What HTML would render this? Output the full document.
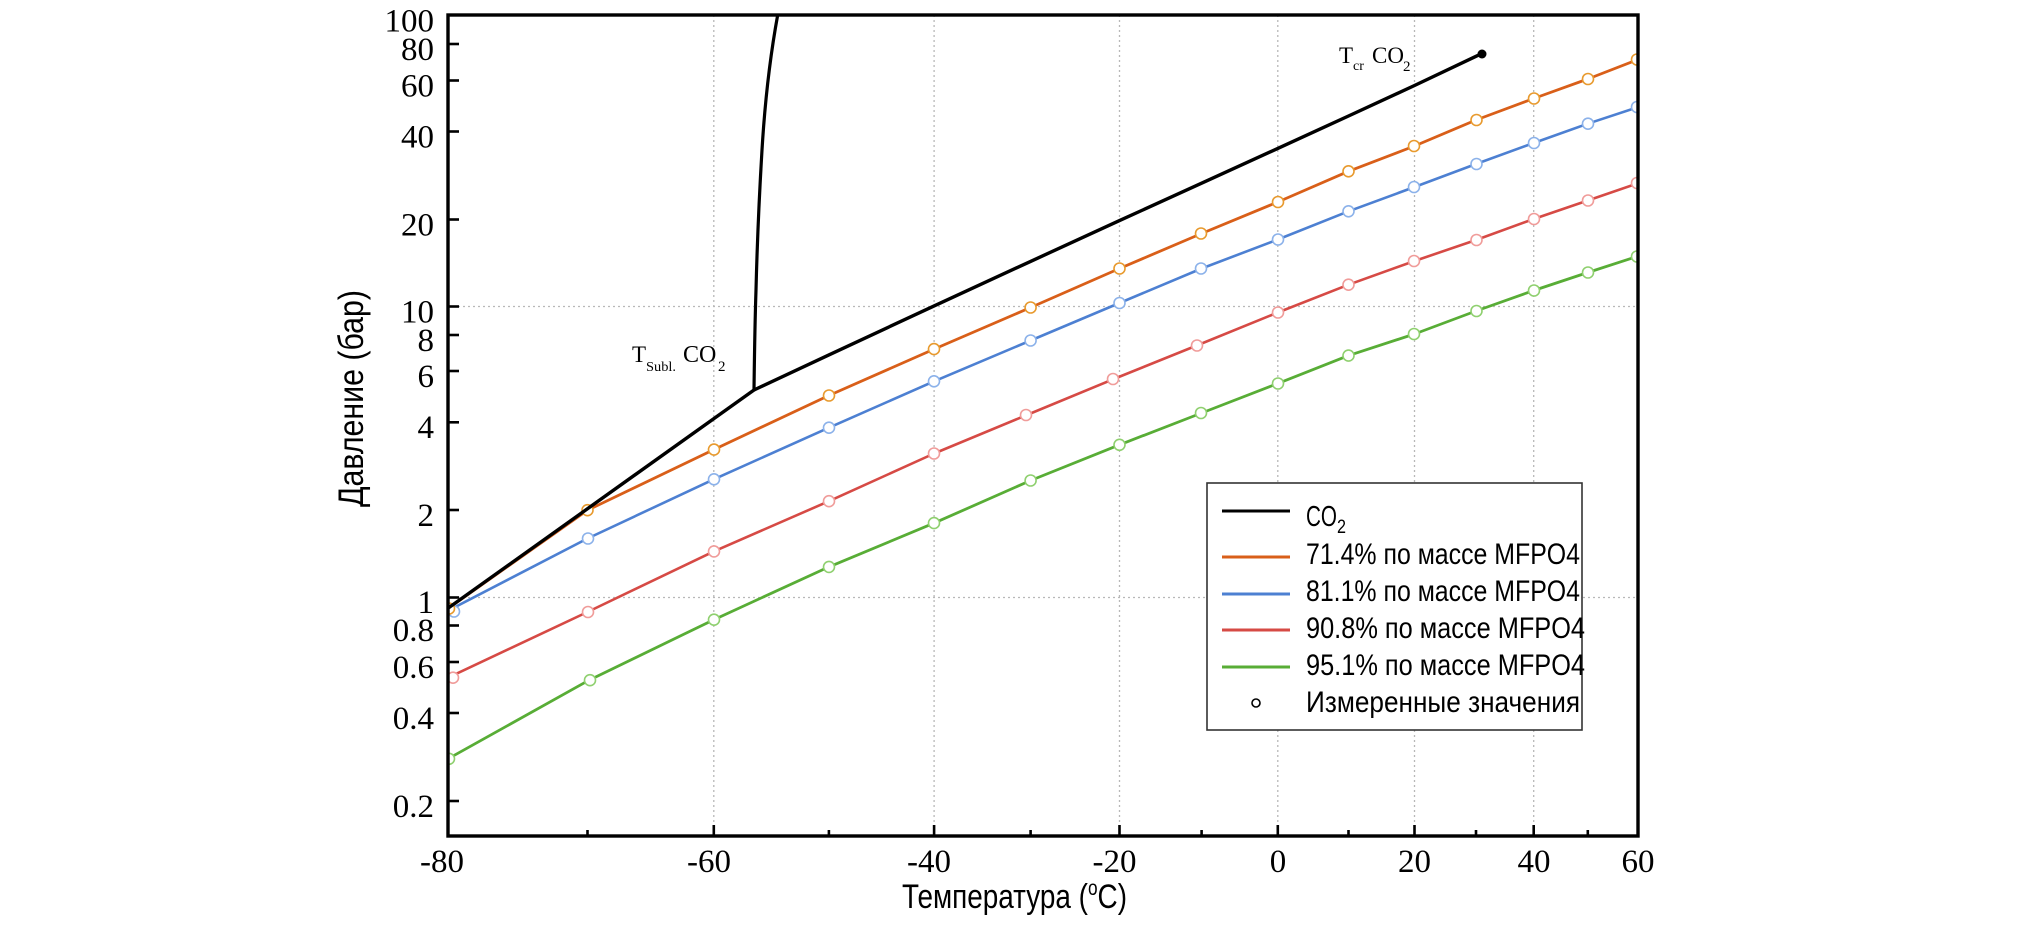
<!DOCTYPE html>
<html>
<head>
<meta charset="utf-8">
<style>
html,body{margin:0;padding:0;background:#ffffff;}
svg{display:block;}
</style>
</head>
<body>
<svg width="2020" height="928" viewBox="0 0 2020 928" xmlns="http://www.w3.org/2000/svg">
<defs>
<clipPath id="plot"><rect x="448" y="15" width="1190" height="821"/></clipPath>
</defs>
<rect x="0" y="0" width="2020" height="928" fill="#ffffff"/>

<!-- grid -->
<g stroke="#b8b8b8" stroke-width="1.3" stroke-dasharray="2,3" fill="none">
<line x1="713.8" y1="15" x2="713.8" y2="836"/>
<line x1="934.1" y1="15" x2="934.1" y2="836"/>
<line x1="1119.5" y1="15" x2="1119.5" y2="836"/>
<line x1="1277.8" y1="15" x2="1277.8" y2="836"/>
<line x1="1414.5" y1="15" x2="1414.5" y2="836"/>
<line x1="1533.7" y1="15" x2="1533.7" y2="836"/>
<line x1="448" y1="597.5" x2="1638" y2="597.5"/>
<line x1="448" y1="306.5" x2="1638" y2="306.5"/>
</g>

<g clip-path="url(#plot)" fill="none" stroke-linejoin="round" stroke-linecap="round">
<!-- green 95.1% -->
<polyline stroke="#58ad36" stroke-width="2.8" points="448,758.8 589,680.2 713.8,619.7 828.9,566.9 934.1,523.1 1030.6,480.5 1119.5,444.8 1201.6,413 1277.8,383.5 1348.5,355.6 1414.5,334 1476,311 1533.7,290.5 1587.8,272.5 1638.6,256"/>
<!-- red 90.8% -->
<polyline stroke="#d64a45" stroke-width="2.6" points="448,677.7 587.5,612 713.8,551.4 828.9,501.2 934.1,453.5 1028,414.5 1115,378.5 1198,345 1277.8,312.5 1348.5,284.7 1414.5,261 1476,240 1533.7,219 1587.8,200.5 1638.6,183"/>
<!-- blue 81.1% -->
<polyline stroke="#4d80d2" stroke-width="2.6" points="448,610.7 587.5,538.5 713.8,479.3 828.9,427.7 934.1,381.3 1030.6,340.5 1119.5,303 1201.6,268.5 1277.8,239.5 1348.5,211.3 1414.5,187 1476,164 1533.7,143 1587.8,123.7 1638.6,106.9"/>
<!-- orange 71.4% -->
<polyline stroke="#d95f19" stroke-width="2.8" points="448,608.6 587.5,510.2 713.8,449.6 828.9,395.5 934.1,349.1 1030.6,307.5 1119.5,268.5 1201.6,233.5 1277.8,202 1348.5,171.3 1414.5,146 1476,120 1533.7,98.5 1587.8,79 1638.6,59.3"/>

<!-- markers -->
<g fill="#ffffff" stroke-width="1.6">
<g stroke="#8fd06f">
<circle cx="449" cy="758.8" r="5.5"/><circle cx="590" cy="680.2" r="5.5"/><circle cx="714" cy="619.7" r="5.5"/><circle cx="829" cy="566.9" r="5.5"/><circle cx="934" cy="523.1" r="5.5"/><circle cx="1030.6" cy="480.5" r="5.5"/><circle cx="1119.5" cy="444.8" r="5.5"/><circle cx="1201" cy="413" r="5.5"/><circle cx="1278" cy="383.5" r="5.5"/><circle cx="1348.5" cy="355.6" r="5.5"/><circle cx="1414" cy="334" r="5.5"/><circle cx="1476.5" cy="311" r="5.5"/><circle cx="1534" cy="290.5" r="5.5"/><circle cx="1588" cy="272.5" r="5.5"/><circle cx="1637" cy="256.5" r="5.5"/>
</g>
<g stroke="#f09c9a">
<circle cx="453" cy="677.7" r="5.5"/><circle cx="588" cy="612" r="5.5"/><circle cx="714" cy="551.4" r="5.5"/><circle cx="829" cy="501.2" r="5.5"/><circle cx="934" cy="453.5" r="5.5"/><circle cx="1026" cy="415" r="5.5"/><circle cx="1113" cy="379" r="5.5"/><circle cx="1197" cy="345.5" r="5.5"/><circle cx="1278" cy="312.5" r="5.5"/><circle cx="1348.5" cy="284.7" r="5.5"/><circle cx="1414" cy="261" r="5.5"/><circle cx="1476.5" cy="240" r="5.5"/><circle cx="1534" cy="219" r="5.5"/><circle cx="1588" cy="200.5" r="5.5"/><circle cx="1637" cy="183" r="5.5"/>
</g>
<g stroke="#8cb2ea">
<circle cx="454" cy="611.5" r="5.5"/><circle cx="588" cy="538.5" r="5.5"/><circle cx="714" cy="479.3" r="5.5"/><circle cx="829" cy="427.7" r="5.5"/><circle cx="934" cy="381.3" r="5.5"/><circle cx="1030.6" cy="340.5" r="5.5"/><circle cx="1119.5" cy="303" r="5.5"/><circle cx="1201" cy="268.5" r="5.5"/><circle cx="1278" cy="239.5" r="5.5"/><circle cx="1348.5" cy="211.3" r="5.5"/><circle cx="1414" cy="187" r="5.5"/><circle cx="1476.5" cy="164" r="5.5"/><circle cx="1534" cy="143" r="5.5"/><circle cx="1588" cy="123.7" r="5.5"/><circle cx="1637" cy="107" r="5.5"/>
</g>
<g stroke="#e89a2e">
<circle cx="449" cy="608.6" r="5.5"/><circle cx="587.5" cy="510.2" r="5.5"/><circle cx="714" cy="449.6" r="5.5"/><circle cx="829" cy="395.5" r="5.5"/><circle cx="934" cy="349.1" r="5.5"/><circle cx="1030.6" cy="307.5" r="5.5"/><circle cx="1119.5" cy="268.5" r="5.5"/><circle cx="1201" cy="233.5" r="5.5"/><circle cx="1278" cy="202" r="5.5"/><circle cx="1348.5" cy="171.3" r="5.5"/><circle cx="1414" cy="146" r="5.5"/><circle cx="1476.5" cy="120" r="5.5"/><circle cx="1534" cy="98.5" r="5.5"/><circle cx="1588" cy="79" r="5.5"/><circle cx="1637" cy="59.5" r="5.5"/>
</g>
</g>

<!-- CO2 -->
<polyline stroke="#000000" stroke-width="3.4" points="449,607.5 754,390 828.9,354.9 934.1,305.9 1030.6,261.4 1119.5,220.6 1201.6,183.2 1277.8,148.4 1348.5,116 1414.5,85.5 1476,56.3 1482,53.5"/>
<path stroke="#000000" stroke-width="3.2" d="M754,390 C754.5,350 755,320 756,290 C757,250 759,200 762,150 C765,100 770,55 779,8"/>
</g>
<circle cx="1482" cy="54" r="4.5" fill="#000000"/>

<!-- axes frame -->
<rect x="448" y="15" width="1190" height="821" fill="none" stroke="#000000" stroke-width="3.4"/>

<!-- y ticks -->
<g stroke="#000000" stroke-width="2.6">
<line x1="448" y1="801" x2="459" y2="801"/>
<line x1="448" y1="713" x2="459" y2="713"/>
<line x1="448" y1="662" x2="459" y2="662"/>
<line x1="448" y1="625.5" x2="459" y2="625.5"/>
<line x1="448" y1="597.5" x2="459" y2="597.5"/>
<line x1="448" y1="510" x2="459" y2="510"/>
<line x1="448" y1="422.3" x2="459" y2="422.3"/>
<line x1="448" y1="371" x2="459" y2="371"/>
<line x1="448" y1="335" x2="459" y2="335"/>
<line x1="448" y1="306.5" x2="459" y2="306.5"/>
<line x1="448" y1="219.5" x2="459" y2="219.5"/>
<line x1="448" y1="131.5" x2="459" y2="131.5"/>
<line x1="448" y1="80.5" x2="459" y2="80.5"/>
<line x1="448" y1="44" x2="459" y2="44"/>
</g>
<!-- x ticks -->
<g stroke="#000000" stroke-width="2.6">
<line x1="587.5" y1="836" x2="587.5" y2="830"/>
<line x1="713.8" y1="836" x2="713.8" y2="825"/>
<line x1="828.9" y1="836" x2="828.9" y2="830"/>
<line x1="934.1" y1="836" x2="934.1" y2="825"/>
<line x1="1030.6" y1="836" x2="1030.6" y2="830"/>
<line x1="1119.5" y1="836" x2="1119.5" y2="825"/>
<line x1="1201.6" y1="836" x2="1201.6" y2="830"/>
<line x1="1277.8" y1="836" x2="1277.8" y2="825"/>
<line x1="1348.5" y1="836" x2="1348.5" y2="830"/>
<line x1="1414.5" y1="836" x2="1414.5" y2="825"/>
<line x1="1476" y1="836" x2="1476" y2="830"/>
<line x1="1533.7" y1="836" x2="1533.7" y2="825"/>
<line x1="1587.8" y1="836" x2="1587.8" y2="830"/>
</g>

<!-- y tick labels -->
<g font-family="'Liberation Serif', serif" font-size="33" fill="#000000" text-anchor="end">
<text x="434" y="817">0.2</text>
<text x="434" y="729">0.4</text>
<text x="434" y="678">0.6</text>
<text x="434" y="641">0.8</text>
<text x="434" y="613">1</text>
<text x="434" y="526">2</text>
<text x="434" y="438">4</text>
<text x="434" y="387">6</text>
<text x="434" y="351">8</text>
<text x="434" y="322.5">10</text>
<text x="434" y="235.5">20</text>
<text x="434" y="147.5">40</text>
<text x="434" y="96.5">60</text>
<text x="434" y="60">80</text>
<text x="434" y="31.5">100</text>
</g>

<!-- x tick labels -->
<g font-family="'Liberation Serif', serif" font-size="33" fill="#000000" text-anchor="middle">
<text x="442" y="872">-80</text>
<text x="709" y="872">-60</text>
<text x="929" y="872">-40</text>
<text x="1114.5" y="872">-20</text>
<text x="1278" y="872">0</text>
<text x="1414.5" y="872">20</text>
<text x="1534" y="872">40</text>
<text x="1638" y="872">60</text>
</g>

<!-- axis titles -->
<text x="902" y="908" font-family="'Liberation Sans', sans-serif" font-size="34" fill="#000000" textLength="225" lengthAdjust="spacingAndGlyphs">Температура (<tspan font-size="21" dy="-13">o</tspan><tspan font-size="34" dy="13">C)</tspan></text>
<text transform="translate(363,398.5) rotate(-90)" text-anchor="middle" font-family="'Liberation Sans', sans-serif" font-size="35" fill="#000000" textLength="217" lengthAdjust="spacingAndGlyphs">Давление (бар)</text>

<!-- annotations -->
<g font-family="'Liberation Serif', serif" fill="#000000">
<text x="632" y="362" font-size="23">T</text>
<text x="646" y="371" font-size="14" textLength="30" lengthAdjust="spacingAndGlyphs">Subl.</text>
<text x="683" y="362" font-size="24">CO</text>
<text x="718" y="371" font-size="15">2</text>

<text x="1339" y="63" font-size="23">T</text>
<text x="1353" y="70" font-size="14">cr</text>
<text x="1372" y="63" font-size="23">CO</text>
<text x="1403" y="71" font-size="15">2</text>
</g>

<!-- legend -->
<rect x="1207" y="483" width="375" height="247" fill="#ffffff" stroke="#333333" stroke-width="1.6"/>
<g stroke-width="3">
<line x1="1222" y1="511" x2="1290" y2="511" stroke="#000000"/>
<line x1="1222" y1="557" x2="1290" y2="557" stroke="#d95f19"/>
<line x1="1222" y1="594" x2="1290" y2="594" stroke="#4d80d2"/>
<line x1="1222" y1="630" x2="1290" y2="630" stroke="#d64a45"/>
<line x1="1222" y1="667" x2="1290" y2="667" stroke="#58ad36"/>
</g>
<circle cx="1256" cy="703" r="4" fill="#ffffff" stroke="#000000" stroke-width="1.6"/>
<g font-family="'Liberation Sans', sans-serif" fill="#000000">
<text x="1306" y="526" font-size="29" textLength="31" lengthAdjust="spacingAndGlyphs">CO</text>
<text x="1337" y="533" font-size="19" textLength="9" lengthAdjust="spacingAndGlyphs">2</text>
<text x="1306" y="564" font-size="30" textLength="274" lengthAdjust="spacingAndGlyphs">71.4% по массе MFPO4</text>
<text x="1306" y="601" font-size="30" textLength="274" lengthAdjust="spacingAndGlyphs">81.1% по массе MFPO4</text>
<text x="1306" y="638" font-size="30" textLength="279" lengthAdjust="spacingAndGlyphs">90.8% по массе MFPO4</text>
<text x="1306" y="675" font-size="30" textLength="279" lengthAdjust="spacingAndGlyphs">95.1% по массе MFPO4</text>
<text x="1306" y="712" font-size="30" textLength="274" lengthAdjust="spacingAndGlyphs">Измеренные значения</text>
</g>
</svg>
</body>
</html>
